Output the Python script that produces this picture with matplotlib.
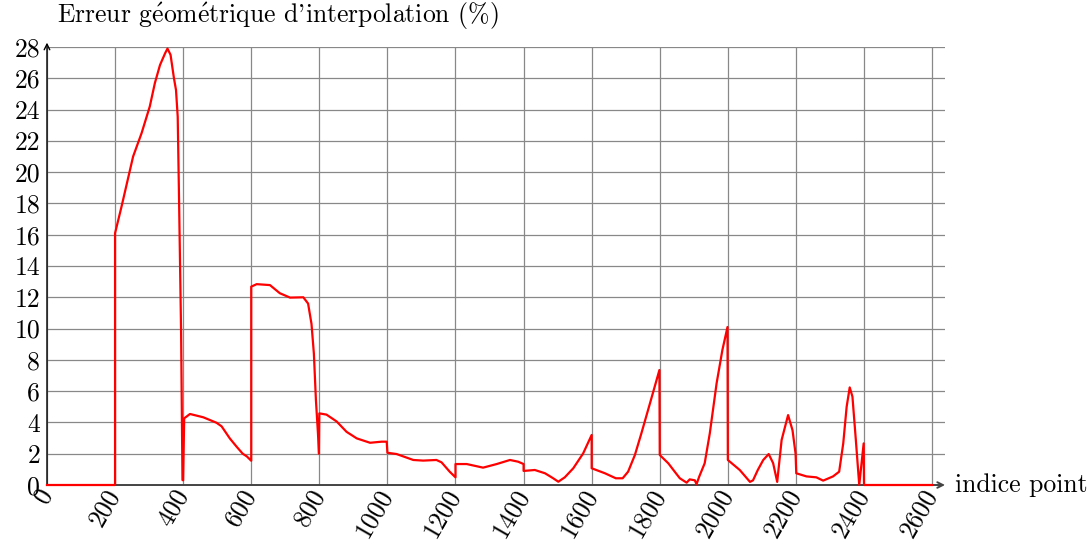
import matplotlib.pyplot as plt

plt.rcParams["font.family"] = ["cmr10", "DejaVu Serif"]
plt.rcParams["mathtext.fontset"] = "cm"
plt.rcParams["axes.formatter.use_mathtext"] = True

# indices des points et erreur (%) relevées le long du parcours
indices = [
    0, 200, 200, 219, 253, 278, 302, 317, 332, 347, 354, 363, 373, 379, 384,
    388, 394, 398, 400, 403, 420, 459, 498, 513, 537, 557, 575, 587, 600,
    600, 616, 655, 684, 714, 753, 767, 777, 784, 790, 796, 799,
    800, 821, 851, 880, 910, 949, 983, 998,
    1000, 1027, 1076, 1105, 1144, 1159, 1183, 1200,
    1200, 1233, 1281, 1321, 1360, 1384, 1400,
    1400, 1433, 1463, 1487, 1502, 1521, 1546, 1575, 1600,
    1600, 1639, 1671, 1691, 1707, 1727, 1746, 1771, 1799,
    1800, 1825, 1844, 1859, 1879, 1888, 1903, 1908, 1916, 1932, 1947, 1967, 1984, 1999,
    2000, 2035, 2065, 2074, 2088, 2104, 2120, 2133, 2145, 2158, 2177, 2190, 2199,
    2201, 2231, 2260, 2280, 2309, 2327, 2339, 2349, 2358, 2366, 2376, 2386, 2399,
    2400, 2600,
]
erreur = [
    0, 0, 16.1, 17.8, 21.0, 22.5, 24.2, 25.7, 26.85, 27.6, 27.9, 27.5, 26.0, 25.25, 23.55,
    18.2, 9.7, 0.32, 0.3, 4.26, 4.54, 4.33, 3.98, 3.75, 2.98, 2.45, 2.0, 1.83, 1.55,
    12.68, 12.84, 12.78, 12.26, 11.98, 12.0, 11.6, 10.3, 8.4, 5.43, 3.3, 2.0,
    4.58, 4.5, 4.06, 3.4, 2.98, 2.7, 2.77, 2.77,
    2.06, 1.98, 1.6, 1.56, 1.6, 1.45, 0.85, 0.49,
    1.34, 1.34, 1.11, 1.34, 1.6, 1.49, 1.34,
    0.9, 0.96, 0.75, 0.43, 0.21, 0.49, 1.07, 2.02, 3.2,
    1.07, 0.75, 0.43, 0.43, 0.85, 1.92, 3.3, 5.2, 7.35,
    1.92, 1.39, 0.85, 0.43, 0.15, 0.36, 0.3, 0.05, 0.54, 1.39, 3.3, 6.5, 8.63, 10.1,
    1.6, 0.96, 0.2, 0.3, 0.96, 1.6, 1.98, 1.4, 0.2, 2.88, 4.47, 3.5, 2.0,
    0.75, 0.55, 0.49, 0.28, 0.55, 0.85, 2.66, 5.0, 6.24, 5.65, 2.88, 0.0, 2.66,
    0, 0,
]

xticks = list(range(0, 2601, 200))
yticks = list(range(0, 29, 2))
fs = 18.5

fig = plt.figure(figsize=(10.9, 5.41), dpi=100)
ax = fig.add_axes([0.0431, 0.1035, 0.8239, 0.8096])

ax.plot(indices, erreur, color="red", linewidth=1.6, zorder=5, clip_on=False)

ax.set_xlim(0, 2638)
ax.set_ylim(0, 28)
ax.set_xticks(xticks)
ax.set_yticks(yticks)
ax.set_xticklabels([str(v) for v in xticks], rotation=60, ha="right", va="center",
                   rotation_mode="anchor", fontsize=fs)
ax.set_yticklabels([str(v) for v in yticks], fontsize=fs)
ax.tick_params(axis="x", length=0, pad=4)
ax.tick_params(axis="y", length=0, pad=5)
ax.grid(True, color="#888888", linewidth=0.9)
ax.set_axisbelow(True)

for side in ["top", "right", "left", "bottom"]:
    ax.spines[side].set_visible(False)

# axes avec flèches
ax.annotate("", xy=(1.0, 0), xytext=(0, 0), xycoords="axes fraction",
            arrowprops=dict(arrowstyle="->", color="#444444", lw=1.4,
                            shrinkA=0, shrinkB=0), zorder=4)
ax.annotate("", xy=(0, 1.01), xytext=(0, 0), xycoords="axes fraction",
            arrowprops=dict(arrowstyle="->", color="black", lw=1.0,
                            shrinkA=0, shrinkB=0), zorder=4)

ax.text(1.011, 0, "indice point", transform=ax.transAxes, ha="left",
        va="center", fontsize=fs)
ax.text(0.011, 1.035,
        r"Erreur g$\acute{\mathrm{e}}$om$\acute{\mathrm{e}}$trique d'interpolation (%)",
        transform=ax.transAxes, ha="left", va="bottom", fontsize=fs)

fig.savefig("out.png", dpi=100)
